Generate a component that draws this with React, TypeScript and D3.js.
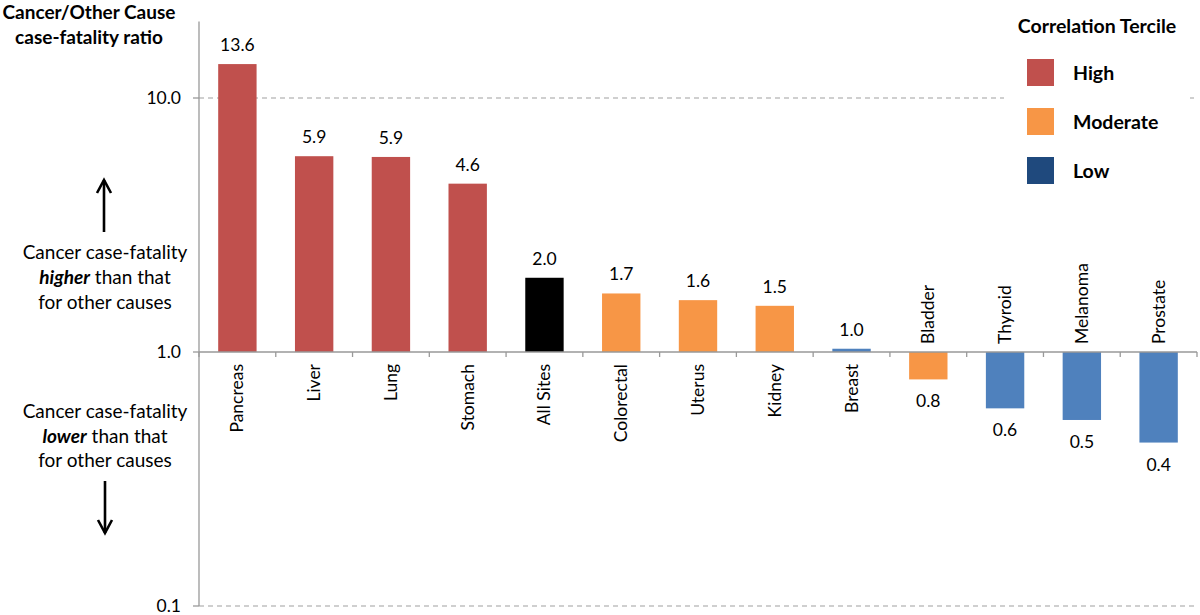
import React from 'react';
import * as d3 from 'd3';

const sites = ['Pancreas', 'Liver', 'Lung', 'Stomach', 'All Sites', 'Colorectal', 'Uterus', 'Kidney', 'Breast', 'Bladder', 'Thyroid', 'Melanoma', 'Prostate'];
const ratios = [13.6, 5.9, 5.86, 4.6, 1.96, 1.7, 1.6, 1.52, 1.03, 0.78, 0.6, 0.54, 0.44];
const terciles = ['High', 'High', 'High', 'High', 'All', 'Moderate', 'Moderate', 'Moderate', 'Low', 'Moderate', 'Low', 'Low', 'Low'];
const yTicks = [0.1, 1, 10];
const legendItems = ['High', 'Moderate', 'Low'];

const BAR_COLORS: Record<string, string> = {
  High: '#C0504D',
  Moderate: '#F79646',
  Low: '#4F81BD',
  All: '#000000',
};
const LEGEND_COLORS: Record<string, string> = {
  High: '#C0504D',
  Moderate: '#F79646',
  Low: '#1F497D',
};

const FONT = 'Lato, "Open Sans", sans-serif';

export default function App() {
  const width = 1200;
  const height = 615;
  const MARGIN = { left: 199, right: 3 };

  const yScale = d3.scaleLog().domain([0.1, 20]).range([606, 352 - 254 * Math.log10(20)]);
  const xScale = d3
    .scaleBand()
    .domain(sites)
    .range([MARGIN.left, width - MARGIN.right])
    .paddingInner(0.5)
    .paddingOuter(0.25);
  const step = xScale.step();
  const baseY = yScale(1);

  const bars = sites.map((s, i) => {
    const v = ratios[i];
    const x = xScale(s) ?? 0;
    const yv = yScale(v);
    const up = v >= 1;
    const cx = x + xScale.bandwidth() / 2;
    return (
      <g key={s}>
        <rect
          x={x}
          y={Math.min(yv, baseY)}
          width={xScale.bandwidth()}
          height={Math.abs(baseY - yv)}
          fill={BAR_COLORS[terciles[i]]}
        />
        <text
          x={cx}
          y={up ? yv - 13 : yv + 28}
          textAnchor="middle"
          fontSize={17.5}
          fill="#000"
        >
          {v.toFixed(1)}
        </text>
        <text
          transform={`translate(${cx + 6},${up ? baseY + 12 : baseY - 8}) rotate(-90)`}
          textAnchor={up ? 'end' : 'start'}
          fontSize={17.5}
          fill="#000"
        >
          {s}
        </text>
      </g>
    );
  });

  const ticksX = d3.range(sites.length + 1).map((i) => MARGIN.left + i * step);

  return (
    <svg width={width} height={height} style={{ position: 'absolute', left: 0, top: 0, fontFamily: FONT }}>
      <rect width={width} height={height} fill="#fff" />
      {/* grid */}
      {yTicks
        .filter((t) => t !== 1)
        .map((t) => (
          <line
            key={t}
            x1={MARGIN.left}
            x2={width - MARGIN.right}
            y1={yScale(t)}
            y2={yScale(t)}
            stroke="#a0a0a0"
            strokeWidth={1.2}
            strokeDasharray="5,4"
          />
        ))}
      {/* y axis */}
      <line x1={MARGIN.left} x2={MARGIN.left} y1={yScale(20)} y2={yScale(0.1)} stroke="#999" strokeWidth={1.3} />
      {yTicks.map((t) => (
        <g key={t}>
          <line x1={MARGIN.left - 6} x2={MARGIN.left} y1={yScale(t)} y2={yScale(t)} stroke="#999" strokeWidth={1.3} />
          <text x={MARGIN.left - 18} y={yScale(t) + 6} textAnchor="end" fontSize={17.5} fill="#000">
            {t.toFixed(1)}
          </text>
        </g>
      ))}
      {bars}
      {/* category axis at 1.0 */}
      <line x1={MARGIN.left} x2={width - MARGIN.right} y1={baseY} y2={baseY} stroke="#999" strokeWidth={1.3} />
      {ticksX.map((x, i) => (
        <line key={i} x1={x} x2={x} y1={baseY} y2={baseY + 5} stroke="#999" strokeWidth={1.3} />
      ))}
      {/* title */}
      <text textAnchor="middle" fontSize={19} fontWeight="bold" fill="#000">
        <tspan x={89} y={19}>Cancer/Other Cause</tspan>
        <tspan x={89} y={44}>case-fatality ratio</tspan>
      </text>
      {/* annotations */}
      <text textAnchor="middle" fontSize={19} fill="#000">
        <tspan x={105} y={259}>Cancer case-fatality</tspan>
        <tspan x={105} y={284}>
          <tspan fontWeight="bold" fontStyle="italic">higher</tspan> than that
        </tspan>
        <tspan x={105} y={309}>for other causes</tspan>
      </text>
      <text textAnchor="middle" fontSize={19} fill="#000">
        <tspan x={105} y={418}>Cancer case-fatality</tspan>
        <tspan x={105} y={443}>
          <tspan fontWeight="bold" fontStyle="italic">lower</tspan> than that
        </tspan>
        <tspan x={105} y={467}>for other causes</tspan>
      </text>
      <g stroke="#000" strokeWidth={2.6} fill="none">
        <line x1={104} x2={104} y1={180} y2={232} />
        <polyline points="97,193 104,180 111,193" />
        <line x1={105} x2={105} y1={481} y2={533} />
        <polyline points="98,520 105,533 112,520" />
      </g>
      {/* legend */}
      <rect x={1004} y={10} width={186} height={180} fill="#fff" />
      <text x={1097} y={33} textAnchor="middle" fontSize={19.5} fontWeight="bold" fill="#000">
        Correlation Tercile
      </text>
      {legendItems.map((k, i) => (
        <g key={k} transform={`translate(1027,${59 + i * 49})`}>
          <rect width={27} height={27} fill={LEGEND_COLORS[k]} />
          <text x={46} y={21} fontSize={19.5} fontWeight="bold" fill="#000">
            {k}
          </text>
        </g>
      ))}
    </svg>
  );
}
